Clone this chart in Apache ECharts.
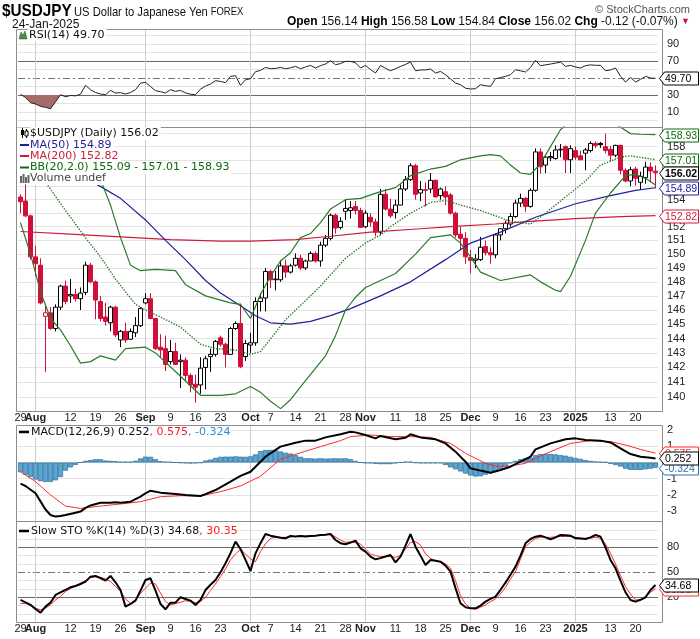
<!DOCTYPE html>
<html><head><meta charset="utf-8">
<script src="https://cdn.jsdelivr.net/npm/echarts/dist/echarts.min.js"></script>
<style>html,body{margin:0;padding:0;background:#fff}#c{width:700px;height:639px}</style>
</head><body><div id="c"></div>
<script>
// ---------------- DATA ----------------
const dates = ['07-29','07-30','07-31',
'08-01','08-02','08-05','08-06','08-07','08-08','08-09','08-12','08-13','08-14','08-15','08-16','08-19','08-20','08-21','08-22','08-23','08-26','08-27','08-28','08-29','08-30',
'09-02','09-03','09-04','09-05','09-06','09-09','09-10','09-11','09-12','09-13','09-16','09-17','09-18','09-19','09-20','09-23','09-24','09-25','09-26','09-27','09-30',
'10-01','10-02','10-03','10-04','10-07','10-08','10-09','10-10','10-11','10-14','10-15','10-16','10-17','10-18','10-21','10-22','10-23','10-24','10-25','10-28','10-29','10-30','10-31',
'11-01','11-04','11-05','11-06','11-07','11-08','11-11','11-12','11-13','11-14','11-15','11-18','11-19','11-20','11-21','11-22','11-25','11-26','11-27','11-28','11-29',
'12-02','12-03','12-04','12-05','12-06','12-09','12-10','12-11','12-12','12-13','12-16','12-17','12-18','12-19','12-20','12-23','12-24','12-26','12-27','12-30','12-31',
'01-02','01-03','01-06','01-07','01-08','01-09','01-10','01-13','01-14','01-15','01-16','01-17','01-20','01-21','01-22','01-23','01-24'];

const xTickIdx  = [0,3,10,15,20,25,30,35,40,46,50,55,60,65,69,75,80,85,90,95,100,105,111,118,123];
const xTickText = ['29','Aug','12','19','26','Sep','9','16','23','Oct','7','14','21','28','Nov','11','18','25','Dec','9','16','23','2025','13','20'];
const monthIdx  = [3,25,46,69,90,111];

const open = [154.2,153.9,152.8,149.8,149.2,145.55,145.8,144.7,146.2,147.7,
147.0,147.1,146.8,147.25,149.2,148.0,146.6,145.5,145.1,146.2,
143.9,144.5,143.95,144.4,144.9,146.5,146.8,145.4,143.4,143.3,
142.4,143.1,142.4,142.5,141.45,140.85,140.8,142.0,142.75,142.9,
144.05,143.6,142.9,144.7,145.05,142.75,143.55,143.7,146.6,146.85,
148.75,148.15,148.15,149.15,148.7,149.2,149.7,149.0,149.5,150.05,
149.5,150.65,151.15,152.85,151.95,153.14,153.2,153.5,153.2,152.0,
152.7,152.35,151.6,154.4,153.3,153.05,153.6,154.8,155.5,156.55,
154.5,154.75,154.8,155.45,154.3,154.6,154.35,153.0,151.45,151.15,
149.75,149.55,149.6,150.55,150.1,149.95,151.4,151.85,152.2,152.75,
153.75,154.1,153.5,154.7,157.6,156.6,157.15,157.1,157.75,158.0,
157.0,157.7,157.3,157.5,157.7,158.25,158.25,158.0,157.8,157.35,
158.1,156.2,155.4,156.3,155.3,155.65,156.45,156.14];
const high = [154.4,155.2,152.9,150.6,149.7,146.3,146.2,146.4,147.8,148.1,
148.2,147.5,147.6,149.45,149.35,148.1,147.0,146.5,146.3,146.3,
144.6,145.1,144.7,145.5,146.2,147.2,147.2,145.45,144.3,144.2,
143.9,143.7,142.9,142.7,141.6,141.5,142.7,142.8,143.3,143.9,
144.2,143.7,144.8,145.2,146.45,143.9,144.4,146.9,147.2,149.0,
148.86,148.8,149.57,149.6,149.3,150.06,149.95,149.6,150.2,150.2,
150.9,151.4,152.97,152.97,152.7,154.05,153.9,153.9,153.4,153.2,
153.0,152.6,154.8,154.8,154.06,154.0,155.15,155.77,156.75,156.7,
155.4,155.3,156.0,155.5,154.9,155.0,154.5,153.1,152.0,151.6,
150.3,150.0,151.26,151.0,150.5,151.5,151.9,152.45,153.0,154.0,
154.45,154.2,154.85,157.87,157.87,157.3,157.6,158.1,158.2,158.1,
158.1,158.0,157.7,157.9,158.4,158.4,158.35,159.0,158.05,158.15,
158.15,156.35,156.47,156.47,156.1,156.85,156.8,156.58];
const low = [153.0,152.7,149.6,148.4,146.4,141.7,144.6,144.5,146.0,146.4,
146.5,146.6,146.0,147.05,147.9,145.35,145.2,144.9,144.5,144.1,
143.4,143.7,143.9,144.1,144.8,146.4,145.35,143.2,142.7,141.75,
142.2,142.2,140.6,141.1,140.3,139.6,140.2,140.5,141.7,142.75,
143.45,142.0,142.9,144.6,141.95,142.45,143.0,143.5,145.9,145.9,
147.55,147.4,148.0,148.3,148.6,149.1,148.86,148.85,149.5,149.4,
149.1,150.5,151.0,151.5,151.8,152.5,152.6,152.9,152.0,151.9,
152.0,151.3,151.4,153.2,152.65,152.6,153.6,154.65,155.4,154.0,
153.9,153.5,154.5,154.2,154.0,153.6,152.9,151.2,150.3,149.3,
148.6,149.0,149.5,149.9,149.3,149.7,151.0,151.5,152.0,152.65,
153.45,153.1,153.4,154.6,155.96,156.0,156.9,157.0,157.2,156.0,
156.0,157.0,157.0,156.2,157.55,157.9,157.9,157.5,156.9,157.2,
155.9,155.3,155.0,155.05,154.75,155.2,155.3,154.84];
const close = [153.85,152.8,149.8,149.3,146.5,145.8,144.7,146.2,147.7,146.6,
147.1,146.8,147.2,149.2,148.0,146.7,145.4,145.2,146.2,144.25,
144.5,143.9,144.5,144.9,146.1,146.8,145.4,143.3,143.2,142.2,
143.1,142.2,142.5,141.45,140.8,140.65,141.95,142.6,142.9,143.8,
143.6,142.9,144.7,145.05,142.05,143.65,143.7,146.6,146.85,148.75,
148.15,148.2,149.15,148.7,149.15,149.7,149.0,149.5,150.05,149.5,
150.65,151.15,152.85,151.9,152.4,153.35,153.4,153.2,151.95,153.0,
152.35,151.6,154.4,153.3,152.8,153.6,154.8,155.5,156.55,154.4,
154.75,154.7,155.45,154.2,154.8,154.2,153.0,151.4,151.15,149.8,
149.55,149.65,150.5,150.1,149.95,151.4,151.85,152.25,152.75,153.75,
154.1,153.5,154.7,157.6,156.47,157.2,157.25,157.75,157.8,157.0,
157.85,157.2,157.0,157.75,158.25,158.1,158.15,157.7,157.35,158.1,
156.2,155.4,156.25,155.6,155.75,156.45,156.15,156.02];

// overlays: [bar index, value]
const ma200 = [[0,151.65],[10,151.45],[20,151.25],[30,151.05],[40,150.95],[46,150.95],[55,151.05],[62,151.3],[70,151.6],[80,151.85],[86,152.0],[95,152.2],[102,152.4],[111,152.6],[120,152.75],[127,152.82]];
const ma50 = [[10,155.9],[15,155.2],[20,154.1],[25,152.5],[29,151.0],[33,149.6],[37,148.1],[40,147.2],[44,146.3],[47,145.6],[50,145.1],[54,145.0],[58,145.2],[62,145.6],[66,146.1],[72,147.0],[78,148.0],[85,149.6],[90,150.8],[96,151.6],[103,152.7],[111,153.7],[118,154.3],[123,154.7],[127,154.89]];
const bbUpper = [[12,158.5],[14,157.3],[16,155.5],[18,153.6],[20,151.2],[22,149.2],[24,148.8],[27,148.9],[31,148.8],[33,147.8],[37,147.0],[42,146.5],[44,146.4],[46,145.4],[48,147.1],[50,148.4],[52,149.5],[54,150.1],[56,151.2],[58,151.5],[60,152.3],[62,153.3],[65,154.0],[68,154.1],[72,154.6],[75,154.9],[78,155.8],[82,156.3],[85,156.5],[88,157.0],[92,157.3],[94,157.4],[96,157.3],[98,156.6],[100,156.0],[102,155.9],[104,156.7],[106,158.0],[108,159.3],[110,160.0],[113,160.3],[116,160.2],[119,159.7],[120,159.5],[122,159.0],[124,158.95],[127,158.93]];
const bbMid = [[4,155.7],[5,155.3],[9,153.2],[13,151.2],[16,149.8],[19,148.2],[23,146.4],[25,146.0],[28,145.5],[32,144.8],[36,143.6],[39,143.3],[43,143.2],[46,142.9],[48,143.1],[53,145.3],[60,147.7],[65,149.7],[69,150.8],[72,151.4],[74,152.0],[78,153.0],[82,153.8],[85,153.95],[88,153.6],[92,153.2],[98,152.4],[102,152.2],[105,153.0],[109,154.2],[113,155.4],[116,156.6],[120,157.2],[122,157.3],[127,157.01]];
const bbLower = [[0,152.3],[2,150.0],[4,147.3],[6,145.4],[8,144.6],[10,143.5],[12,142.3],[14,142.4],[16,142.8],[19,142.5],[21,143.3],[25,143.4],[27,143.0],[32,141.4],[36,140.1],[40,140.1],[43,140.2],[46,140.7],[48,140.3],[50,139.7],[52,139.2],[54,139.8],[57,141.1],[61,142.8],[63,144.2],[65,146.0],[67,146.9],[69,147.6],[72,148.1],[75,148.6],[79,150.0],[82,151.2],[86,151.4],[88,150.8],[90,149.8],[92,148.7],[96,148.1],[102,148.5],[104,148.0],[107,147.4],[108,147.3],[110,148.4],[113,151.0],[115,153.0],[118,154.5],[121,155.8],[123,155.9],[125,155.6],[127,155.09]];

const rsi = [31.0,27.0,21.0,19.5,16.7,15.5,13.9,22.0,30.4,28.0,
29.5,29.0,31.0,41.4,36.3,33.0,31.2,30.4,35.5,32.4,
32.8,31.2,33.0,36.3,44.0,45.0,40.0,35.1,34.0,32.4,
36.3,34.3,35.5,32.5,31.0,30.4,37.0,40.5,43.0,46.9,
46.0,44.5,52.0,52.7,41.4,48.0,49.2,57.5,59.0,62.5,
61.0,61.3,62.5,61.0,62.0,63.7,61.0,63.0,64.9,61.8,
64.5,66.5,70.4,65.7,67.0,69.6,69.6,68.0,61.8,64.9,
60.0,55.9,64.9,61.5,58.6,61.0,63.7,66.0,68.8,58.6,
59.5,59.5,60.6,55.9,57.8,53.9,49.0,44.1,42.2,38.0,
37.1,37.5,42.2,41.0,40.2,49.2,50.5,52.0,53.9,59.8,
58.5,57.1,62.5,70.8,64.5,65.5,66.5,67.5,68.8,63.7,
64.9,63.0,61.8,64.5,65.5,65.0,64.9,58.6,59.5,61.8,
52.0,45.3,50.8,45.3,48.5,52.0,50.0,49.7];

const macd = [[0,-1.3],[1,-1.45],[3,-1.9],[4,-2.4],[5,-2.9],[6,-3.24],[7,-3.34],[8,-3.3],[9,-3.24],[11,-3.1],[12,-3.03],[13,-2.8],[14,-2.65],[16,-2.48],[18,-2.48],[19,-2.45],[20,-2.48],[22,-2.42],[24,-2.11],[25,-1.9],[26,-1.74],[28,-1.86],[31,-1.94],[33,-2.0],[36,-2.07],[37,-1.95],[39,-1.7],[42,-1.18],[44,-0.83],[46,-0.57],[47,-0.26],[49,0.36],[52,0.98],[55,1.22],[57,1.35],[59,1.35],[61,1.55],[64,1.74],[66,1.9],[67,1.86],[69,1.7],[71,1.49],[72,1.64],[75,1.43],[77,1.53],[78,1.74],[80,1.55],[83,1.43],[85,1.18],[87,0.67],[89,0.05],[90,-0.36],[92,-0.5],[94,-0.63],[96,-0.46],[98,-0.26],[100,0.05],[102,0.36],[103,0.81],[106,1.18],[109,1.43],[111,1.49],[113,1.39],[116,1.35],[118,1.24],[120,0.87],[122,0.52],[124,0.36],[126,0.30],[127,0.252]];
const signal = [[0,-0.57],[3,-1.18],[6,-2.0],[9,-2.69],[12,-2.83],[16,-2.69],[20,-2.56],[24,-2.42],[28,-2.11],[32,-2.05],[36,-2.07],[40,-1.8],[44,-1.45],[48,-0.85],[52,0.2],[56,0.6],[60,0.98],[64,1.35],[66,1.6],[70,1.7],[74,1.6],[78,1.6],[82,1.55],[86,1.18],[89,0.57],[93,-0.05],[95,-0.22],[97,-0.26],[101,-0.05],[103,0.26],[106,0.67],[110,1.18],[114,1.35],[118,1.29],[121,1.08],[124,0.81],[127,0.575]];
const hist = [-0.6,-0.75,-0.9,-1.05,-1.15,-1.2,-1.2,-1.1,-0.9,-0.5,
-0.3,-0.15,0.0,0.1,0.15,0.2,0.2,0.12,0.1,0.08,
0.05,0.05,0.05,0.1,0.25,0.36,0.35,0.2,0.08,0.05,
0.03,0.0,-0.02,-0.05,-0.06,-0.05,-0.02,0.12,0.18,0.28,
0.35,0.36,0.36,0.38,0.36,0.35,0.38,0.5,0.7,0.77,
0.78,0.75,0.68,0.6,0.55,0.45,0.35,0.26,0.26,0.24,
0.26,0.24,0.25,0.26,0.25,0.26,0.2,0.1,0.0,-0.05,
-0.05,-0.08,-0.1,-0.1,-0.1,-0.05,0.0,0.05,0.05,-0.02,
-0.05,-0.05,-0.05,-0.05,-0.05,-0.15,-0.3,-0.42,-0.55,-0.68,
-0.8,-0.87,-0.85,-0.75,-0.67,-0.55,-0.4,-0.25,-0.05,0.1,
0.2,0.26,0.3,0.45,0.52,0.52,0.52,0.5,0.46,0.42,
0.35,0.28,0.22,0.15,0.1,0.06,0.04,0.02,-0.08,-0.15,
-0.25,-0.38,-0.45,-0.46,-0.46,-0.42,-0.38,-0.324];

const stoK = [16.8,14,11,6,1.6,8.8,13.6,22.8,26,29,
32,33.6,36,38.8,44.8,45.6,43,40,45.6,38,
28.8,8.8,12,16,28,40.8,42.8,28,12,5.6,
13.6,13.6,20,18,16,10.8,16.8,28.8,35,40.8,
50,60.8,73,86.8,78,65,51.6,72.8,85,96,
94,92.8,91.5,90.8,93.6,93,93.6,93,93.6,94,
94.8,95,96,88.8,85,83.6,85.6,88,78.8,74.8,
68.8,65.6,67,69,70.8,62,68.8,82,96,80.8,
70,58.8,64.8,63.8,62.8,58,50.8,31,12.8,8,
6.8,6.8,10,14.8,18,20.8,29,37.6,47,56.8,
70,84.8,90,92.8,94,92,89.6,92,94.8,94.5,
94,90.8,90.5,90,92,94.8,92.8,80,64.8,54.8,
40,26,16.8,14.8,17,20,28.8,34.68];
const stoD = [12.5,12.8,10,7,5,7,11,16.8,21,27,
30.5,33.5,36.8,40,43.5,45,44,42,39,33,
27,18,12.8,17,24.8,31,37,36,25,15,
10.8,12.5,14,16,15,13.6,15,20,28,36,
44.8,54,65,72,77.6,72,66,62.8,75,84,
90.8,92,92,92,93,93,93.6,93.5,93.5,94,
94.5,95.2,96,92.5,88.8,86,86.5,85.5,84,78,
72,70,69,68.8,69,68,70,78,86,86.8,
82.8,72,66.8,64,62.8,60,55,40,22,12,
7,5.6,8,11,14.8,18,24,32,42,50.8,
66,80.8,86,90.8,92,92,92,92.5,93,93,
92.8,92,91,90.8,91,92,90.8,84,72.8,60,
46,32.8,24,16.8,16.8,21,26,30.35];

const priceLabels = [158,154,152,151,150,149,148,147,146,145,144,143,142,141,140];
const priceGrid = [139,140,141,142,143,144,145,146,147,148,149,150,151,152,153,154,155,156,157,158,159];
const rsiLabels = [90,70,30,10];
const macdLabels = [2,1,-1,-2,-3];
const stoLabels = [80,50,20];

// ---------------- STYLE / LAYOUT ----------------
const RED = '#d0103a', NAVY = '#1f1f9a', MA2C = '#d01c3c', GREEN = '#2a7a2a', DKGREEN = '#0b6b0b';
const AF = '"Liberation Sans", Arial, sans-serif';
const LF = '"DejaVu Sans", Verdana, sans-serif';
const L = 18, W = 640, XL = 16, XR = 662;
const P = {
  rsi:  {top:29,  height:98,    min:-7.6,  max:107.7},
  main: {top:127, height:284,   min:139.04, max:159.51},
  macd: {top:425, height:96,    min:-3.611, max:2.315},
  sto:  {top:521, height:100.7, min:-9.3,  max:111.6}
};
const rsi30Top = P.rsi.top + (P.rsi.max - 30) / (P.rsi.max - P.rsi.min) * P.rsi.height;
const grids = [
  {left:L, width:W, top:P.rsi.top, height:P.rsi.height},
  {left:L, width:W, top:P.main.top, height:P.main.height},
  {left:L, width:W, top:P.macd.top, height:P.macd.height},
  {left:L, width:W, top:P.sto.top, height:P.sto.height},
  {left:L, width:W, top:rsi30Top, height:P.rsi.top + P.rsi.height - rsi30Top}
];
function xAxis(g, labels, margin) {
  return {type:'category', gridIndex:g, data:dates, boundaryGap:true,
    axisLine:{show:false}, axisTick:{show:false}, splitLine:{show:false},
    axisLabel:{show:labels, interval:0, margin:margin, fontFamily:AF, fontSize:11, color:'#222',
      formatter:(v, i) => { const k = xTickIdx.indexOf(i); if (k < 0) return '';
        return monthIdx.includes(i) ? '{b|' + xTickText[k] + '}' : xTickText[k]; },
      rich:{b:{fontFamily:AF, fontSize:11, fontWeight:'bold', color:'#222'}}}};
}
function yAxis(g, p, type) {
  const o = {type:type || 'value', gridIndex:g, min:p.min, max:p.max, show:false, scale:true};
  if (type === 'log') o.logBase = 10;
  return o;
}
const light = {color:'#e4e4e4', width:1, type:'solid'};
const vline = {color:'#cdcdcd', width:1, type:'solid'};
const dark = {color:'#6a6a6a', width:1, type:'solid'};
const dashdot = {color:'#777', width:1, type:[7,3,2,3]};
function gridLines(ai, hs) {
  return {type:'line', xAxisIndex:ai, yAxisIndex:ai, data:[], silent:true, z:0,
    markLine:{silent:true, symbol:['none','none'], animation:false, z:0, label:{show:false},
      emphasis:{disabled:true},
      data: hs.map(h => ({yAxis:h[0], lineStyle:h[1]})).concat(monthIdx.map(i => ({xAxis:i, lineStyle:vline})))}};
}
const candleData = open.map((o, i) => {
  const c = close[i];
  const prev = i > 0 ? close[i-1] : o;
  const col = c >= prev ? '#000' : RED;
  const fill = c > o ? '#fff' : col;
  return {value:[o, c, low[i], high[i]], itemStyle:{color:fill, color0:fill, borderColor:col, borderColor0:col, borderWidth:1}};
});
function line(ai, data, color, width, type, z) {
  return {type:'line', xAxisIndex:ai, yAxisIndex:ai, data, symbol:'none', showSymbol:false, clip:true,
    lineStyle:{color, width, type:type || 'solid'}, z:z || 4, silent:true, animation:false};
}
const rsiH = [];
for (let v = 0; v <= 100; v += 10) rsiH.push([v, v === 30 || v === 70 ? dark : (v === 50 ? dashdot : light)]);
const stoH = [];
for (let v = 0; v <= 100; v += 10) stoH.push([v, v === 20 || v === 80 ? dark : (v === 50 ? dashdot : light)]);
const macdH = [2,1,0,-1,-2,-3].map(v => [v, light]);
const mainH = priceGrid.map(v => [v, light]);

const option = {
  animation:false,
  backgroundColor:'#fff',
  grid: grids,
  xAxis: [xAxis(0,false,0), xAxis(1,true,1), xAxis(2,false,0), xAxis(3,true,2), xAxis(4,false,0)],
  yAxis: [yAxis(0,P.rsi), yAxis(1,P.main,'log'), yAxis(2,P.macd), yAxis(3,P.sto), yAxis(4,{min:P.rsi.min,max:30})],
  series: [
    gridLines(0, rsiH), gridLines(1, mainH), gridLines(2, macdH), gridLines(3, stoH),
    {type:'line', xAxisIndex:4, yAxisIndex:4, data:rsi, symbol:'none', clip:true, silent:true, z:2,
      lineStyle:{width:0, opacity:0}, areaStyle:{color:'#a66c6c', origin:'end', opacity:1}},
    line(0, rsi, '#222', 1),
    {type:'candlestick', xAxisIndex:1, yAxisIndex:1, data:candleData, barWidth:4, z:3, silent:true},
    line(1, ma200, MA2C, 1.2),
    line(1, ma50, NAVY, 1.2),
    line(1, bbUpper, GREEN, 1.2),
    line(1, bbLower, GREEN, 1.2),
    line(1, bbMid, GREEN, 1.4, 'dotted'),
    {type:'bar', xAxisIndex:2, yAxisIndex:2, data:hist, barCategoryGap:'0%', silent:true, z:2,
      itemStyle:{color:'#58a4d2', borderColor:'#2b6c97', borderWidth:0.7}},
    line(2, signal, '#ff2a2a', 1),
    line(2, macd, '#000', 2),
    line(3, stoD, '#ff2a2a', 1),
    line(3, stoK, '#000', 2)
  ]
};
const chart = echarts.init(document.getElementById('c'));
chart.setOption(option);

// ---------------- GRAPHICS (text, frames, tags) ----------------
const py = (g, v) => chart.convertToPixel({gridIndex:g}, [0, v])[1];
const els = [];
[[P.rsi.top, P.rsi.top + P.rsi.height], [P.main.top, P.main.top + P.main.height],
 [P.macd.top, P.macd.top + P.macd.height], [P.sto.top, P.sto.top + P.sto.height]].forEach(f => {
  els.push({type:'rect', z:50, silent:true, shape:{x:XL + 0.5, y:Math.round(f[0]) + 0.5, width:XR - XL, height:Math.round(f[1] - f[0])},
    style:{fill:null, stroke:'#8c8c8c', lineWidth:1}});
});
function txt(x, y, text, font, fill, opts) {
  return Object.assign({type:'text', x, y, z:120, silent:true,
    style:Object.assign({text, font, fill, align:'left', verticalAlign:'middle'}, (opts && opts.style) || {})},
    (opts && opts.el) || {});
}
priceLabels.forEach(v => els.push(txt(667, py(1, v), String(v), '11px ' + AF, '#222')));
rsiLabels.forEach(v => els.push(txt(667, py(0, v), String(v), '11px ' + AF, '#222')));
macdLabels.forEach(v => els.push(txt(667, py(2, v), String(v), '11px ' + AF, '#222')));
stoLabels.forEach(v => els.push(txt(667, py(3, v), String(v), '11px ' + AF, '#222')));
function tag(y, text, color, bold, z) {
  y = Math.round(y) + 0.5;
  els.push({type:'polygon', z:z, silent:true,
    shape:{points:[[659.5, y], [664.5, y - 6.5], [698.5, y - 6.5], [698.5, y + 6.5], [664.5, y + 6.5]]},
    style:{fill:'#fff', stroke:color, lineWidth:1}});
  els.push({type:'text', z:z + 1, silent:true, x:665, y:y + 0.5,
    style:{text, fill:color, font:(bold ? 'bold ' : '') + (bold ? '10.5px ' : '10.5px ') + AF, align:'left', verticalAlign:'middle'}});
}
tag(py(1, 158.93), '158.93', DKGREEN, false, 130);
tag(py(1, 157.01), '157.01', DKGREEN, false, 132);
tag(py(1, 152.82), '152.82', MA2C, false, 134);
tag(py(1, 154.89), '154.89', NAVY, false, 136);
tag(py(1, 156.02), '156.02', '#000', true, 138);
tag(py(0, 49.70), '49.70', '#000', false, 130);
tag(py(2, 0.575), '0.575', '#ff2a2a', false, 130);
tag(py(2, -0.324), '-0.324', '#2a6fb0', false, 132);
tag(py(2, 0.252), '0.252', '#000', false, 134);
tag(py(3, 30.35), '30.35', '#ff2a2a', false, 130);
tag(py(3, 34.68), '34.68', '#000', false, 132);

// header
els.push(txt(2, 11, '$USDJPY', 'bold 17px ' + AF, '#000', {el:{scaleX:0.9}}));
els.push({type:'text', x:74, y:12, z:120, silent:true, scaleX:0.86,
  style:{text:'{a|US Dollar to Japanese Yen} {b|FOREX}', verticalAlign:'middle', align:'left',
    rich:{a:{font:'13px ' + AF, fill:'#111'}, b:{font:'11px ' + AF, fill:'#111'}}}});
els.push(txt(690, 10, '\u00a9 StockCharts.com', '11px ' + AF, '#555', {style:{align:'right'}}));
els.push(txt(12, 25, '24-Jan-2025', '12px ' + AF, '#111'));
els.push({type:'text', x:690, y:22, z:120, silent:true,
  style:{text:'{b|Open} 156.14 {b|High} 156.58 {b|Low} 154.84 {b|Close} 156.02 {b|Chg} -0.12 (-0.07%) {r|\u25bc}',
    font:'12px ' + AF, fill:'#111', align:'right', verticalAlign:'middle',
    rich:{b:{font:'bold 12px ' + AF, fill:'#000'}, r:{font:'9px ' + AF, fill:RED}}}});

// RSI legend
els.push({type:'polygon', z:121, silent:true, shape:{points:[[19,39],[21,32],[23,35],[25,31],[27,39]]}, style:{fill:'#4a8a4a', stroke:'#2a5a2a', lineWidth:0.5}});
els.push(txt(28, 35, 'RSI(14) 49.70', '11px ' + LF, '#111', {style:{backgroundColor:'#fff', padding:[1,2,1,1]}}));

// main legend
const LG = [
  [133.5, '$USDJPY (Daily) 156.02', '#111', null],
  [145, 'MA(50) 154.89', NAVY, NAVY],
  [156, 'MA(200) 152.82', MA2C, MA2C],
  [167.5, 'BB(20,2.0) 155.09 - 157.01 - 158.93', DKGREEN, DKGREEN],
  [178.5, 'Volume undef', '#444', null]
];
LG.forEach(r => {
  els.push({type:'rect', z:115, silent:true, shape:{x:17, y:r[0] - 6, width:13, height:12}, style:{fill:'#fff'}});
  els.push(txt(30, r[0], r[1], '11px ' + LF, r[2], {style:{backgroundColor:'#fff', padding:[1,2,1,0]}}));
  if (r[3]) els.push({type:'line', z:125, silent:true, shape:{x1:20, y1:r[0], x2:29, y2:r[0]}, style:{stroke:r[3], lineWidth:2}});
});
els.push({type:'line', z:125, silent:true, shape:{x1:22.5, y1:128, x2:22.5, y2:138}, style:{stroke:'#000', lineWidth:1}});
els.push({type:'rect', z:126, silent:true, shape:{x:21, y:130, width:3, height:5}, style:{fill:'#000'}});
els.push({type:'line', z:125, silent:true, shape:{x1:26.5, y1:129, x2:26.5, y2:138}, style:{stroke:'#000', lineWidth:1}});
els.push({type:'rect', z:126, silent:true, shape:{x:25, y:131, width:3, height:5}, style:{fill:'#fff', stroke:'#000', lineWidth:1}});
[[20,176],[22.5,174],[25,177],[27.5,175]].forEach(b => els.push({type:'rect', z:126, silent:true,
  shape:{x:b[0], y:b[1], width:2, height:183 - b[1]}, style:{fill:'#666'}}));

// MACD legend
els.push({type:'line', z:125, silent:true, shape:{x1:19, y1:432, x2:29, y2:432}, style:{stroke:'#000', lineWidth:2.5}});
els.push({type:'text', x:31, y:432, z:120, silent:true,
  style:{text:'{k|MACD(12,26,9) 0.252}{r|, 0.575}{b|, -0.324}', verticalAlign:'middle', align:'left', backgroundColor:'#fff',
    rich:{k:{font:'11px ' + LF, fill:'#111'}, r:{font:'11px ' + LF, fill:'#ff1a1a'}, b:{font:'11px ' + LF, fill:'#2a8fd0'}}}});
// STO legend
els.push({type:'line', z:125, silent:true, shape:{x1:19, y1:531, x2:29, y2:531}, style:{stroke:'#000', lineWidth:2.5}});
els.push({type:'text', x:31, y:531, z:120, silent:true,
  style:{text:'{k|Slow STO %K(14) %D(3) 34.68}{r|, 30.35}', verticalAlign:'middle', align:'left', backgroundColor:'#fff',
    rich:{k:{font:'11px ' + LF, fill:'#111'}, r:{font:'11px ' + LF, fill:'#ff1a1a'}}}});

chart.setOption({graphic:{elements:els}});
</script>
</body></html>
